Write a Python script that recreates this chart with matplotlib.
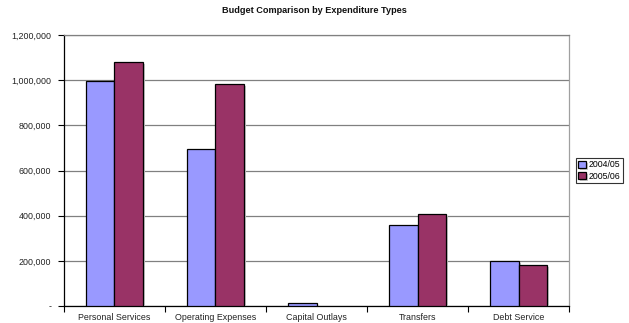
import matplotlib.pyplot as plt
import matplotlib.patheffects as pe
import numpy as np

categories = ['Personal Services', 'Operating Expenses', 'Capital Outlays', 'Transfers', 'Debt Service']
budget_0405 = [996000, 696000, 13000, 360000, 199000]
budget_0506 = [1082000, 985000, 0, 409000, 180000]
series_labels = ['2004/05', '2005/06']

plt.rcParams['font.family'] = ['Liberation Sans', 'DejaVu Sans']

fig = plt.figure(figsize=(6.29, 3.23), dpi=100)
ax = fig.add_axes([0.1017, 0.0526, 0.803, 0.839])

x = np.arange(len(categories))
w = 0.28
shadow = [pe.SimplePatchShadow(offset=(1.5, -1.5), shadow_rgbFace='#c8c8c8', alpha=1), pe.Normal()]
b1 = ax.bar(x - w / 2, budget_0405, w, color='#9999ff', edgecolor='black', linewidth=0.9,
            label=series_labels[0], zorder=3, path_effects=shadow)
b2 = ax.bar(x + w / 2, budget_0506, w, color='#993366', edgecolor='black', linewidth=0.9,
            label=series_labels[1], zorder=3, path_effects=shadow)
# Excel draws nothing for zero-height bars
for bars, vals in ((b1, budget_0405), (b2, budget_0506)):
    for rect, v in zip(bars, vals):
        if v == 0:
            rect.set_visible(False)

ax.set_xlim(-0.5, len(categories) - 0.5)
ax.set_ylim(0, 1200000)
yt = np.arange(0, 1200001, 200000)
ax.set_yticks(yt)
ax.set_yticklabels(['-'] + [f'{v:,}' for v in yt[1:]])
ax.yaxis.grid(True, color='#808080', linewidth=0.9, zorder=0)
ax.set_axisbelow(True)

ax.set_xticks(x)
ax.set_xticklabels(categories)
ax.set_xticks(np.arange(-0.5, len(categories) + 0.5, 1), minor=True)
ax.tick_params(axis='x', which='major', length=0, pad=4.8, labelsize=6.4, labelcolor='#222222')
ax.tick_params(axis='x', which='minor', length=4, width=0.8, direction='out')
ax.tick_params(axis='y', length=4, width=0.8, direction='out', pad=5, labelsize=6.4, labelcolor='#222222')

ax.spines['left'].set_color('black')
ax.spines['bottom'].set_color('black')
ax.spines['top'].set_color('#808080')
ax.spines['right'].set_color('#a0a0a0')
for s in ax.spines.values():
    s.set_linewidth(0.9)

fig.text(0.5, 0.967, 'Budget Comparison by Expenditure Types', ha='center', va='center',
         fontsize=6.6, fontweight='bold', color='#111111')

leg = fig.legend(handles=[b1, b2], labels=series_labels, loc='center left',
                 bbox_to_anchor=(0.915, 0.472), fontsize=6.3, frameon=True, fancybox=False,
                 edgecolor='black', handlelength=0.9, handleheight=0.9, handletextpad=0.3,
                 borderpad=0.3, labelspacing=0.25, borderaxespad=0)
leg.get_frame().set_linewidth(0.8)

fig.savefig('out.png', dpi=100, facecolor='white')
